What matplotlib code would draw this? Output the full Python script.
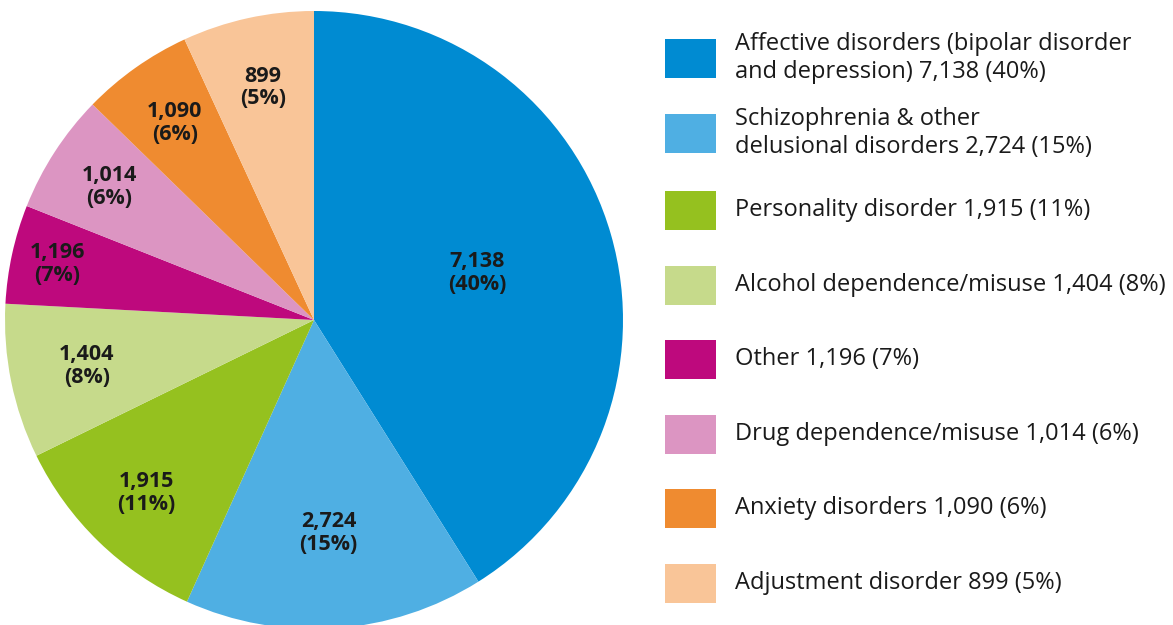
import matplotlib
matplotlib.use("Agg")
import matplotlib.pyplot as plt
from matplotlib.patches import Rectangle
import numpy as np

# ---- data ----
categories = [
    "Affective disorders (bipolar disorder\nand depression)",
    "Schizophrenia & other\ndelusional disorders",
    "Personality disorder",
    "Alcohol dependence/misuse",
    "Other",
    "Drug dependence/misuse",
    "Anxiety disorders",
    "Adjustment disorder",
]
counts = [7138, 2724, 1915, 1404, 1196, 1014, 1090, 899]
percents = [40, 15, 11, 8, 7, 6, 6, 5]
# wedge sizes as they are drawn in the source picture (the last four slices
# are drawn with sizes that do not match their labels)
slice_sizes = [7138, 2724, 1915, 1404, 899, 1090, 1014, 1196]

colors = ["#008BD2", "#4FAFE3", "#95C11F", "#C6DA8B",
          "#BE097D", "#DC95C2", "#EF8B30", "#F9C598"]

W, H = 1173, 625
fig = plt.figure(figsize=(W / 100, H / 100), dpi=100)

FONT = ["Open Sans", "DejaVu Sans"]
TXT = "#1a1a1a"

# ---- pie ----
cx, cy, R = 314, 320, 309
ax = fig.add_axes([(cx - R) / W, (H - cy - R) / H, 2 * R / W, 2 * R / H])
wedges, _ = ax.pie(slice_sizes, colors=colors, startangle=90,
                   counterclock=False, radius=1.0,
                   wedgeprops=dict(linewidth=0))
ax.set_xlim(-1, 1)
ax.set_ylim(-1, 1)
ax.set_aspect("equal")
ax.axis("off")

label_dist = [0.55, 0.69, 0.78, 0.75, 0.85, 0.79, 0.78, 0.77]
for w, c, p, d in zip(wedges, counts, percents, label_dist):
    ang = np.deg2rad((w.theta1 + w.theta2) / 2)
    ax.text(d * np.cos(ang), d * np.sin(ang), f"{c:,}\n({p}%)",
            ha="center", va="center", fontsize=15.5, fontweight="bold",
            family=FONT, color=TXT, linespacing=1.1)

# ---- legend ----
lax = fig.add_axes([0, 0, 1, 1])
lax.set_xlim(0, W)
lax.set_ylim(H, 0)
lax.axis("off")
row_y = [58, 133, 210, 285, 359, 434, 508, 583]
for cat, c, p, col, y in zip(categories, counts, percents, colors, row_y):
    lax.add_patch(Rectangle((665, y - 19.5), 51, 39, facecolor=col,
                            edgecolor="none"))
    lax.text(735, y, f"{cat} {c:,} ({p}%)", ha="left", va="center",
             fontsize=17, family=FONT, color=TXT, linespacing=1.2)

fig.savefig("out.png", dpi=100)
